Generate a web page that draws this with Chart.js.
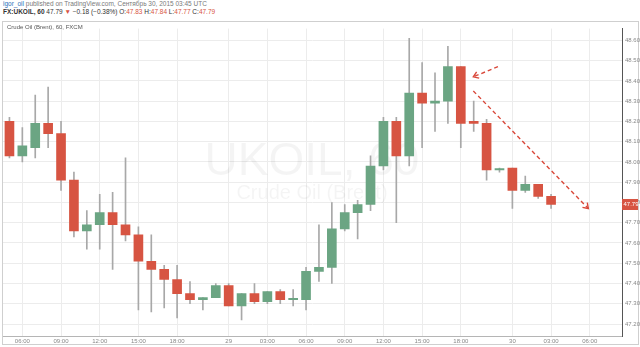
<!DOCTYPE html>
<html>
<head>
<meta charset="utf-8">
<script src="https://cdn.jsdelivr.net/npm/chart.js@4.4.0/dist/chart.umd.min.js"></script>
<style>
  html, body { margin: 0; padding: 0; background: #fff; }
  body { width: 640px; height: 347px; position: relative; overflow: hidden; font-family: "Liberation Sans", Arial, sans-serif; }
  #hdr1, #hdr2 { position: absolute; left: 3px; font-size: 6.5px; white-space: nowrap; line-height: 8px; }
  #hdr1 { top: 0px; color: #7a7a7a; }
  #hdr1 .user { color: #2d72b8; }
  #hdr2 { top: 8px; color: #333; }
  #hdr2 .red { color: #d75442; }
  #panel { position: absolute; left: 2px; top: 21px; width: 635px; height: 322px; border: 1px solid #cfcfcf; }
  #legend { position: absolute; left: 7px; top: 24px; font-size: 6px; color: #555; }
  #wrap { position: absolute; left: 3px; top: 22px; width: 637px; height: 322px; }
</style>
</head>
<body>
<div id="hdr1"><span class="user">igor_oil</span> published on TradingView.com, Сентябрь 30, 2015 03:45 UTC</div>
<div id="hdr2"></div>
<div id="panel"></div>
<div id="wrap"><canvas id="chart"></canvas></div>
<div id="legend">Crude Oil (Brent), 60, FXCM</div>
<script>
// hourly slots, 28 Sep 05:00 .. 30 Sep 08:00 (22:00-23:00 closed)
const times = [
  '05:00','06:00','07:00','08:00','09:00','10:00','11:00','12:00','13:00','14:00','15:00','16:00',
  '17:00','18:00','19:00','20:00','21:00','29','01:00','02:00','03:00','04:00','05:00','06:00',
  '07:00','08:00','09:00','10:00','11:00','12:00','13:00','14:00','15:00','16:00','17:00','18:00',
  '19:00','20:00','21:00','30','01:00','02:00','03:00','04:00','05:00','06:00','07:00','08:00'
];
const shownTimes = ['29','30','03:00','06:00','09:00','12:00','15:00','18:00'];

const opens  = [48.20,48.03,48.07,48.19,48.14,47.91,47.66,47.69,47.75,47.69,47.64,47.51,47.47,47.42,47.35,47.32,47.33,47.39,47.29,47.35,47.31,47.36,
                47.32,47.32,47.46,47.48,47.67,47.75,47.79,47.98,48.20,48.03,48.34,48.29,48.30,48.47,48.20,48.19,47.96,47.97,47.86,47.89,47.83];
const highs  = [48.22,48.17,48.33,48.37,48.20,47.95,47.76,47.84,47.85,48.02,47.68,47.64,47.49,47.49,47.41,47.33,47.40,47.40,47.35,47.40,47.36,47.37,
                47.37,47.48,47.69,47.80,47.79,47.81,48.03,48.22,48.22,48.61,48.49,48.44,48.57,48.47,48.30,48.21,47.97,47.97,47.93,47.89,47.84];
const lows   = [48.02,48.00,48.02,48.07,47.86,47.63,47.57,47.57,47.47,47.61,47.27,47.26,47.28,47.23,47.30,47.27,47.33,47.29,47.22,47.30,47.30,47.30,
                47.29,47.27,47.41,47.40,47.66,47.62,47.76,47.96,47.70,47.98,48.07,48.15,48.19,48.07,48.15,47.91,47.95,47.77,47.85,47.82,47.77];
const closes = [48.03,48.08,48.19,48.14,47.91,47.66,47.69,47.75,47.69,47.64,47.51,47.47,47.42,47.35,47.32,47.33,47.39,47.29,47.35,47.31,47.36,47.32,
                47.32,47.46,47.48,47.67,47.75,47.79,47.98,48.20,48.03,48.34,48.29,48.30,48.47,48.19,48.19,47.96,47.96,47.86,47.89,47.83,47.79];

const yTicks = [47.20,47.30,47.40,47.50,47.60,47.70,47.80,47.90,48.00,48.10,48.20,48.30,48.40,48.50,48.60];

// hand-drawn arrows, in [slot index, price]
const arrows = [
  { from: [37.88, 48.47], to: [35.97, 48.42] },
  { from: [35.97, 48.35], to: [44.89, 47.77] }
];

const UP = '#6ba583', DOWN = '#d75442', WICK = '#a8a8a8';

const last = closes.length - 1;
document.getElementById('hdr2').innerHTML =
  '<b>FX:UKOIL, 60</b> ' + closes[last].toFixed(2) + ' <span class="red">▼</span> −0.18 (−0.38%) ' +
  'O:<span class="red">' + opens[last].toFixed(2) + '</span> ' +
  'H:<span class="red">' + highs[last].toFixed(2) + '</span> ' +
  'L:<span class="red">' + lows[last].toFixed(2) + '</span> ' +
  'C:<span class="red">' + closes[last].toFixed(2) + '</span>';

const bodies = opens.map((o, i) => [o, closes[i]]);
const wicks = lows.map((l, i) => [l, highs[i]]);
const bodyColors = opens.map((o, i) => closes[i] >= o ? UP : DOWN);

const decorPlugin = {
    id: 'decor',
    beforeDatasetsDraw(chart) {
        const { ctx } = chart;
        const cx = 309;
        ctx.save();
        ctx.fillStyle = 'rgba(0,0,0,0.045)';
        ctx.textAlign = 'center';
        ctx.textBaseline = 'alphabetic';
        ctx.font = '46px "Liberation Sans", Arial, sans-serif';
        ctx.fillText('UKOIL, 60', cx, 153);
        ctx.font = '20px "Liberation Sans", Arial, sans-serif';
        ctx.fillText('Crude Oil (Brent)', cx, 177);
        ctx.restore();
    },
    afterDraw(chart) {
        const { ctx, chartArea, scales } = chart;
        const x = scales.x, y = scales.y;
        ctx.save();
        ctx.strokeStyle = '#d9483a';
        ctx.lineWidth = 1.4;
        arrows.forEach(a => {
            const x1 = x.getPixelForValue(a.from[0]), y1 = y.getPixelForValue(a.from[1]);
            const x2 = x.getPixelForValue(a.to[0]), y2 = y.getPixelForValue(a.to[1]);
            ctx.setLineDash([4, 3]);
            ctx.beginPath(); ctx.moveTo(x1, y1); ctx.lineTo(x2, y2); ctx.stroke();
            const ang = Math.atan2(y2 - y1, x2 - x1);
            ctx.setLineDash([]);
            ctx.beginPath();
            ctx.moveTo(x2 - 6 * Math.cos(ang - 0.6), y2 - 6 * Math.sin(ang - 0.6));
            ctx.lineTo(x2, y2);
            ctx.lineTo(x2 - 6 * Math.cos(ang + 0.6), y2 - 6 * Math.sin(ang + 0.6));
            ctx.stroke();
        });
        // last price tag
        const py = y.getPixelForValue(closes[last]);
        ctx.fillStyle = DOWN;
        ctx.fillRect(chartArea.right, py - 5.5, 16, 11);
        ctx.fillStyle = '#fff';
        ctx.font = '6px "Liberation Sans", Arial, sans-serif';
        ctx.textAlign = 'left';
        ctx.textBaseline = 'middle';
        ctx.fillText(closes[last].toFixed(2), chartArea.right + 1.5, py);
        ctx.restore();
    }
};

new Chart(document.getElementById('chart'), {
    type: 'bar',
    data: {
        labels: times,
        datasets: [
            { label: 'wick', data: wicks, backgroundColor: WICK, barThickness: 1, grouped: false, order: 2, minBarLength: 1 },
            { label: 'body', data: bodies, backgroundColor: bodyColors, barThickness: 9, grouped: false, order: 1, minBarLength: 1.5 }
        ]
    },
    options: {
        responsive: true,
        maintainAspectRatio: false,
        animation: false,
        layout: { padding: 0 },
        plugins: { legend: { display: false }, tooltip: { enabled: false } },
        scales: {
            x: {
                offset: true,
                grid: {
                    offset: false, drawTicks: false,
                    color: c => shownTimes.includes(times[c.index]) ? '#ececec' : 'rgba(0,0,0,0)'
                },
                border: { color: '#b5b5b5' },
                ticks: {
                    autoSkip: false, maxRotation: 0, padding: 2,
                    color: '#888', font: { size: 6, family: '"Liberation Sans", Arial, sans-serif' },
                    callback: (v, i) => shownTimes.includes(times[i]) ? times[i] : ''
                },
                afterFit: s => { s.height = 8; }
            },
            y: {
                position: 'right',
                min: 47.141, max: 48.658,
                afterBuildTicks: s => { s.ticks = yTicks.map(v => ({ value: v })); },
                grid: { color: '#ececec', drawTicks: false },
                border: { color: '#555' },
                ticks: {
                    padding: 3, color: '#888',
                    font: { size: 6, family: '"Liberation Sans", Arial, sans-serif' },
                    callback: v => v.toFixed(2)
                },
                afterFit: s => { s.width = 18; }
            }
        }
    },
    plugins: [decorPlugin]
});
</script>
</body>
</html>
